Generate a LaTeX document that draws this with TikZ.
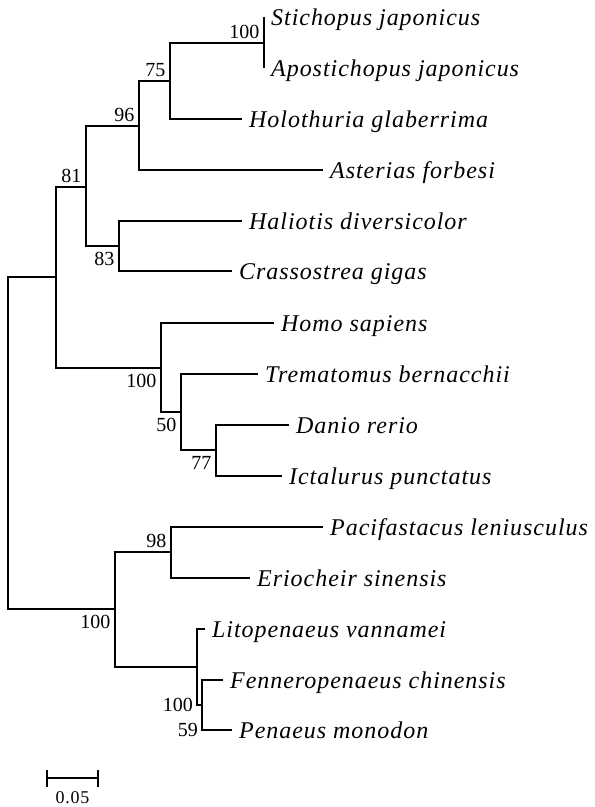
\documentclass[tikz,border=0pt]{standalone}
\usepackage{fontspec}
\usetikzlibrary{calc}
\setmainfont{Liberation Serif}
\newfontfamily\taxonfont[LetterSpace=4]{Liberation Serif}
\tikzset{
  branch/.style={line width=1.2pt},
  taxon/.style={anchor=base west,inner sep=0pt,xshift=7pt,yshift=-8pt,
    font=\taxonfont\fontsize{24}{28}\selectfont\itshape},
  bsup/.style={anchor=base east,inner sep=0pt,xshift=-4.5pt,yshift=5pt,
    font=\fontsize{20}{24}\selectfont},
  bsdown/.style={anchor=north east,inner sep=0pt,xshift=-4.5pt,yshift=-6pt,
    font=\fontsize{20}{24}\selectfont},
  bsside/.style={anchor=east,inner sep=0pt,xshift=-4pt,
    font=\fontsize{20}{24}\selectfont}
}
\begin{document}
\begin{tikzpicture}[x=1pt,y=-1pt]
  \useasboundingbox (0,0) rectangle (595,807);

  % internal nodes
  \coordinate (root) at (8,443);
  \coordinate (deut) at (56,277);
  \coordinate (n81)  at (86,187);
  \coordinate (n96)  at (139,126);
  \coordinate (n75)  at (170,81);
  \coordinate (sea)  at (264,43);
  \coordinate (n83)  at (119,246);
  \coordinate (vert) at (161,368);
  \coordinate (n50)  at (181,412);
  \coordinate (n77)  at (216,450);
  \coordinate (crus) at (115,609);
  \coordinate (n98)  at (171,552);
  \coordinate (pen)  at (197,667);
  \coordinate (n59)  at (202,705);

  % leaf tips
  \coordinate (t1)  at (264,17);
  \coordinate (t2)  at (264,68);
  \coordinate (t3)  at (242,119);
  \coordinate (t4)  at (323,170);
  \coordinate (t5)  at (242,221);
  \coordinate (t6)  at (232,271);
  \coordinate (t7)  at (274,323);
  \coordinate (t8)  at (258,374);
  \coordinate (t9)  at (289,425);
  \coordinate (t10) at (282,476);
  \coordinate (t11) at (323,527);
  \coordinate (t12) at (250,578);
  \coordinate (t13) at (205,629);
  \coordinate (t14) at (223,680);
  \coordinate (t15) at (232,730);

  % branches
  \draw[branch] (root) |- (deut);
  \draw[branch] (root) |- (crus);
  \draw[branch] (deut) |- (n81);
  \draw[branch] (deut) |- (vert);
  \draw[branch] (n81) |- (n96);
  \draw[branch] (n81) |- (n83);
  \draw[branch] (n96) |- (n75);
  \draw[branch] (n96) |- (t4);
  \draw[branch] (n75) |- (sea);
  \draw[branch] (n75) |- (t3);
  \draw[branch] (sea) -- (t1);
  \draw[branch] (sea) -- (t2);
  \draw[branch] (n83) |- (t5);
  \draw[branch] (n83) |- (t6);
  \draw[branch] (vert) |- (t7);
  \draw[branch] (vert) |- (n50);
  \draw[branch] (n50) |- (t8);
  \draw[branch] (n50) |- (n77);
  \draw[branch] (n77) |- (t9);
  \draw[branch] (n77) |- (t10);
  \draw[branch] (crus) |- (n98);
  \draw[branch] (crus) |- (pen);
  \draw[branch] (n98) |- (t11);
  \draw[branch] (n98) |- (t12);
  \draw[branch] (pen) |- (t13);
  \draw[branch] (pen) |- (n59);
  \draw[branch] (n59) |- (t14);
  \draw[branch] (n59) |- (t15);

  % taxon names
  \node[taxon] (l1)  at (t1)  {Stichopus japonicus};
  \node[taxon] (l2)  at (t2)  {Apostichopus japonicus};
  \node[taxon] (l3)  at (t3)  {Holothuria glaberrima};
  \node[taxon] (l4)  at (t4)  {Asterias forbesi};
  \node[taxon] (l5)  at (t5)  {Haliotis diversicolor};
  \node[taxon] (l6)  at (t6)  {Crassostrea gigas};
  \node[taxon] (l7)  at (t7)  {Homo sapiens};
  \node[taxon] (l8)  at (t8)  {Trematomus bernacchii};
  \node[taxon] (l9)  at (t9)  {Danio rerio};
  \node[taxon] (l10) at (t10) {Ictalurus punctatus};
  \node[taxon] (l11) at (t11) {Pacifastacus leniusculus};
  \node[taxon] (l12) at (t12) {Eriocheir sinensis};
  \node[taxon] (l13) at (t13) {Litopenaeus vannamei};
  \node[taxon] (l14) at (t14) {Fenneropenaeus chinensis};
  \node[taxon] (l15) at (t15) {Penaeus monodon};

  % bootstrap values
  \node[bsup]   (b1)  at (sea)  {100};
  \node[bsup]   (b2)  at (n75)  {75};
  \node[bsup]   (b3)  at (n96)  {96};
  \node[bsup]   (b4)  at (n81)  {81};
  \node[bsdown] (b5)  at (n83)  {83};
  \node[bsdown] (b6)  at (vert) {100};
  \node[bsdown] (b7)  at (n50)  {50};
  \node[bsdown] (b8)  at (n77)  {77};
  \node[bsup]   (b9)  at (n98)  {98};
  \node[bsdown] (b10) at (crus) {100};
  \node[bsside] (b11) at (n59 -| pen) {100};
  \node[bsside] (b12) at (t15 -| n59) {59};

  % scale bar
  \coordinate (sb1) at (47,778);
  \coordinate (sb2) at (98,778);
  \draw[branch] (sb1) -- (sb2);
  \draw[branch] ([yshift=8pt]sb1) -- ([yshift=-9pt]sb1);
  \draw[branch] ([yshift=8pt]sb2) -- ([yshift=-9pt]sb2);
  \node[anchor=north,inner sep=0pt,font=\taxonfont\fontsize{18}{20}\selectfont]
    (sbl) at ([yshift=-13pt]$(sb1)!0.5!(sb2)$) {0.05};
\end{tikzpicture}
\end{document}
